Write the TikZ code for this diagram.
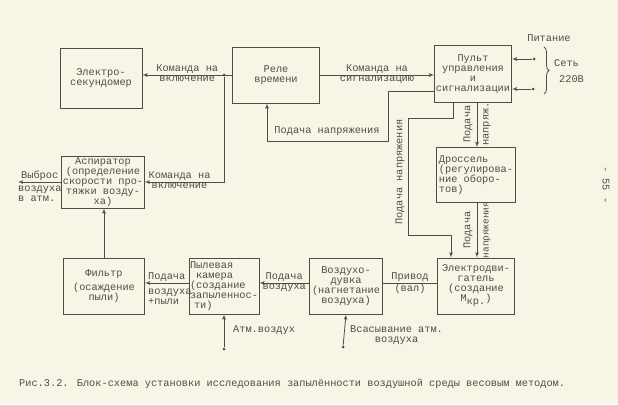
\documentclass[tikz,border=0pt]{standalone}
\usepackage{fontspec}
\setmainfont{Liberation Mono}
\usetikzlibrary{shapes,arrows,positioning,decorations.pathreplacing}
\definecolor{paper}{RGB}{248,245,231}
\definecolor{ink}{RGB}{80,76,72}
\tikzstyle{block} = [rectangle, draw=ink, line width=0.9pt, inner sep=1pt,
    align=center, minimum height=56pt]
\tikzstyle{line} = [draw=ink, line width=0.8pt, -latex']
\tikzstyle{wire} = [draw=ink, line width=0.8pt]
\tikzstyle{lbl} = [inner sep=1pt, align=center]
\tikzstyle{dot} = [circle, fill=ink, inner sep=0pt, minimum size=3pt]

\begin{document}
\begin{tikzpicture}[x=1pt, y=-1pt, text=ink, font=\fontsize{10.3}{10}\selectfont]
		\useasboundingbox[fill=paper] (0,0) rectangle (618,404);
		% node placement
		\node [block, minimum width=82pt, minimum height=60pt] (sekund) at (101,78) {Электро-\\секундомер};
		\node [block, minimum width=87pt] (rele) at (276,75) {Реле\\времени};
		\node [block, minimum width=77pt, minimum height=57pt] (pult) at (473,74) {Пульт\\управления\\и\\сигнализации};
		\node [block, minimum width=82pt, minimum height=52pt] (aspir) at (103,182) {Аспиратор\\(определение\\скорости про-\\тяжки возду-\\ха)};
		\node [block, minimum width=79pt, minimum height=55pt, align=left] (dross) at (476,175) {Дроссель\\(регулирова-\\ние оборо-\\тов)};
		\node [block, minimum width=81pt] (filtr) at (104,286) {Фильтр\\[4pt](осаждение\\пыли)};
		\node [block, minimum width=66pt, align=left] (kamera) at (224,286) {Пылевая\\\hspace*{6pt}камера\\(создание\\запыленнос-\\\hspace*{4pt}ти)};
		\node [block, minimum width=73pt] (vozd) at (346,286) {Воздухо-\\дувка\\(нагнетание\\воздуха)};
		\node [block, minimum width=77pt] (dvig) at (476,286) {Электродви-\\гатель\\(создание\\М\raisebox{-3pt}{кр.})};

		% terminals
		\node [dot] (j1) at (224,75) {};
		\node [dot] (atm) at (224,349) {};
		\node [dot] (vsas) at (343,347) {};
		\node [dot] (net1) at (534,59) {};
		\node [dot] (net2) at (533,89) {};
		\coordinate (vybros) at (18,182);

		% commands
		\path[line] (rele.west) -- node[lbl, above] (kv1) {Команда на} node[lbl, below] (kv2) {включение} (rele.west -| sekund.east);
		\path[line] (j1) |- node[lbl, above, pos=0.78] (kv3) {Команда на} node[lbl, below, pos=0.78] (kv4) {включение} (aspir.east);
		\path[line] (rele.east) -- node[lbl, above] (ks1) {Команда на} node[lbl, below] (ks2) {сигнализацию} (rele.east -| pult.west);

		% supply lines
		\path[line] (pult.west |- 0,91) -| (388,141) -| (267,0 |- rele.south);
		\node [lbl] (pn1) at (327,131) {Подача напряжения};
		\path[line] (453,0 |- pult.south) |- (408,118) |- (451,235) -- (451,0 |- dvig.north);
		\node [lbl, rotate=90] (pn2) at (400,172) {Подача напряжения};
		\path[line] (477,0 |- pult.south) -- (477,0 |- dross.north);
		\node [lbl, rotate=90] (pn3) at (468,124) {Подача};
		\node [lbl, rotate=90] (pn4) at (487,124) {напряж.};
		\path[line] (477,0 |- dross.south) -- (477,0 |- dvig.north);
		\node [lbl, rotate=90] (pn5) at (468,230) {Подача};
		\node [lbl, rotate=90, font=\fontsize{9.4}{10}\selectfont] (pn6) at (487,230) {напряжения};

		% mains
		\path[line] (net1) -- (net1 -| pult.east);
		\path[line] (net2) -- (net2 -| pult.east);
		\draw [ink, line width=0.8pt, decorate, decoration={brace, amplitude=5pt}] (544,47) -- (544,94);
		\node [lbl] (pit) at (549,38) {Питание};
		\node [lbl, anchor=west] (set) at (553,63) {Сеть};
		\node [lbl, anchor=west] (volt) at (558,79) {220В};

		% air path
		\path[wire] (dvig.west |- 0,283) -- node[lbl, above] (priv) {Привод} node[lbl, below] (val) {(вал)} (vozd.east |- 0,283);
		\path[line] (vozd.west |- 0,283) -- node[lbl, above] (pv1) {Подача} node[lbl, below] (pv2) {воздуха} (kamera.east |- 0,283);
		\path[line] (kamera.west |- 0,283) -- node[lbl, above] (pp1) {Подача} (filtr.east |- 0,283);
		\node [lbl, anchor=north west, align=left] (pp2) at (147,288) {воздуха\\+пыли};
		\path[line] (atm) -- (kamera.south);
		\node [lbl, anchor=west] (atmv) at (232,330) {Атм.воздух};
		\path[line] (vsas) -- (vozd.south);
		\node [lbl, anchor=west] (vsv) at (349,335) {Всасывание атм.\\воздуха};
		\path[line] (filtr.north) -- (filtr.north |- aspir.south);
		\path[line] (aspir.west) -- node[lbl, above] (vb1) {Выброс} (vybros);
		\node [lbl, anchor=north west, align=left] (vb2) at (17,185) {воздуха\\в атм.};

		% caption
		\node [lbl, anchor=west] (cap) at (18,384) {Рис.3.2. Блок-схема установки исследования запылённости воздушной среды весовым методом.};
		\node [lbl, rotate=-90] (page) at (606,185) {- 55 -};
	\end{tikzpicture}
\end{document}
